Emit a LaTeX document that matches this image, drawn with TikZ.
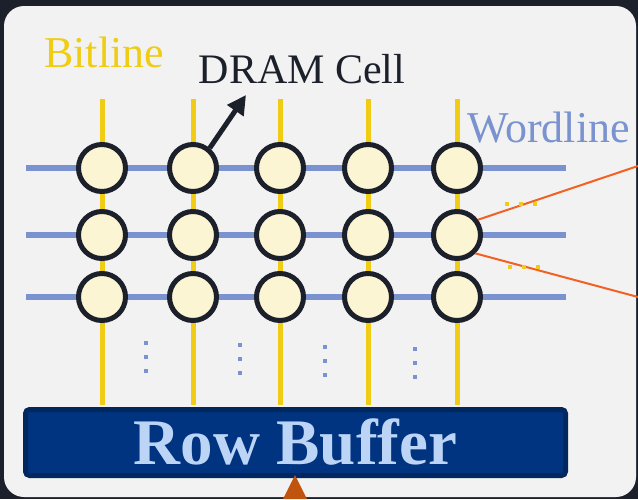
\documentclass[tikz,border=0pt]{standalone}
\usepackage{fontspec}
\setmainfont{Liberation Serif}
\usetikzlibrary{arrows.meta}
\definecolor{bgdark}{HTML}{1B202B}
\definecolor{panel}{HTML}{F2F2F2}
\definecolor{wblue}{HTML}{7A92CF}
\definecolor{byellow}{HTML}{F0CC14}
\definecolor{cream}{HTML}{FCF5D4}
\definecolor{boxfill}{HTML}{003380}
\definecolor{boxline}{HTML}{00285E}
\definecolor{boxtext}{HTML}{BCD5F7}
\definecolor{oline}{HTML}{F26122}
\definecolor{otri}{HTML}{C0540F}
\tikzset{
  cell/.style={circle, draw=bgdark, fill=cream, line width=5pt, minimum size=47pt, inner sep=0pt},
  wordln/.style={wblue, line width=6pt},
  bitln/.style={byellow, line width=5pt},
  dotb/.style={fill=wblue},
  doty/.style={fill=byellow},
  lbl/.style={inner sep=0pt, font=\fontsize{44}{50}\selectfont},
  hl/.style={oline, line width=2pt}
}
\begin{document}
\begin{tikzpicture}[x=1pt,y=-1pt]
\useasboundingbox (0,0) rectangle (638,499);
\fill[bgdark] (0,0) rectangle (638,499);
\fill[panel, rounded corners=20pt] (4,6) rectangle (636,497);

% wordlines
\foreach \r/\y in {1/168,2/235,3/297}{
  \coordinate (wl\r) at (26,\y);
  \coordinate (wr\r) at (566,\y);
  \draw[wordln] (wl\r) -- (wr\r);
}
% row buffer
\node[draw=boxline, fill=boxfill, line width=5pt, rounded corners=4pt,
      minimum width=540pt, minimum height=66pt, inner sep=0pt,
      text=boxtext, font=\bfseries\fontsize{65}{70}\selectfont] (rb) at (295.5,442.5) {Row Buffer};
% bitlines
\foreach \c/\x in {1/102,2/193,3/280,4/368,5/457}{
  \coordinate (bt\c) at (\x,99);
  \coordinate (bb\c) at (\x,405);
  \draw[bitln] (bt\c) -- (bb\c);
}
% cells
\foreach \r/\y in {1/168,2/235,3/297}{
  \foreach \c/\x in {1/102,2/193,3/280,4/368,5/457}{
    \node[cell] (c\r\c) at (\x,\y) {};
  }
}
% labels
\node[lbl, text=byellow, anchor=base west] (bitlbl) at (44,67) {Bitline};
\node[lbl, text=bgdark, anchor=base, font=\fontsize{42}{46}\selectfont] (dramlbl) at (302,83) {DRAM Cell};
\node[lbl, text=wblue, anchor=base west] (wordlbl) at (467,142) {Wordline};
% arrow to DRAM Cell label
\coordinate (atip) at (246,95);
\draw[bgdark, line width=5pt, -{Triangle[length=19pt,width=19pt]}] (c12.50) -- (atip);
% orange highlight lines
\coordinate (oe1) at (638,166);
\coordinate (oe2) at (638,297);
\draw[hl] (c25.36) -- (oe1);
\draw[hl] (c25.-45) -- (oe2);
% horizontal yellow dots
\foreach \x in {507,521,535}{ \fill[doty] (\x-2,202) rectangle (\x+2,206); }
\foreach \x in {510,524,538}{ \fill[doty] (\x-2,265) rectangle (\x+2,269); }
% vertical blue dots
\foreach \x/\y in {146/343,240/345,325/347,415/349}{
  \foreach \k in {0,14,28}{ \fill[dotb] (\x-2,\y+\k-2) rectangle (\x+2,\y+\k+2); }
}
% bottom triangle
\coordinate (tt) at (295,475);
\coordinate (tl) at (283,499);
\coordinate (tr) at (307,499);
\fill[otri] (tt) -- (tl) -- (tr) -- cycle;
\end{tikzpicture}
\end{document}
